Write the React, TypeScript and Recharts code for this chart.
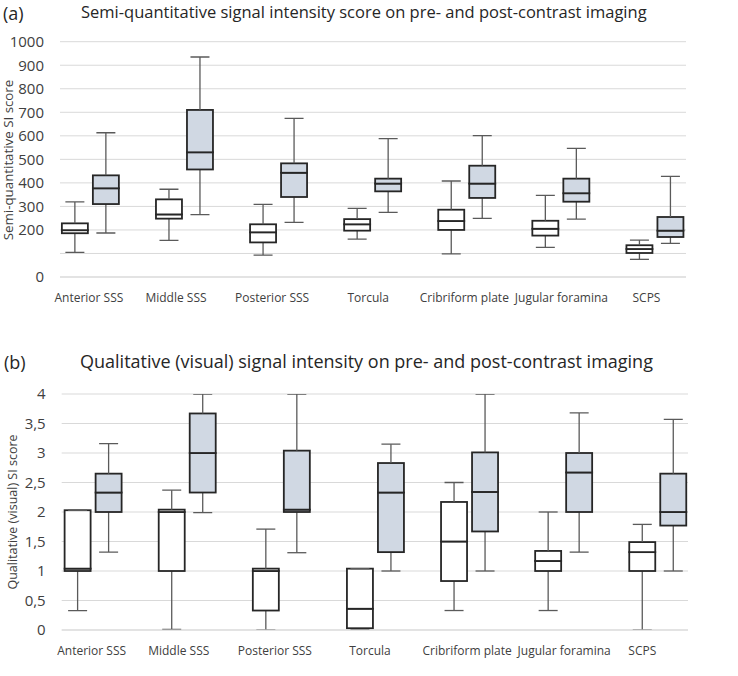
import React from 'react';
import { ComposedChart, Bar, XAxis, YAxis, CartesianGrid } from 'recharts';

const FONT = "'Open Sans', 'Noto Sans', sans-serif";

const CATEGORIES = [
  'Anterior SSS',
  'Middle SSS',
  'Posterior SSS',
  'Torcula',
  'Cribriform plate',
  'Jugular foramina',
  'SCPS',
];

// each row: [min, q1, median, q3, max]
const SEMI_PRE = [
  [105, 186, 199, 228, 319],
  [156, 248, 266, 330, 373],
  [93, 147, 190, 224, 309],
  [161, 197, 224, 246, 292],
  [98, 200, 238, 286, 408],
  [126, 176, 205, 239, 347],
  [75, 102, 119, 135, 157],
];
const SEMI_POST = [
  [187, 310, 377, 432, 613],
  [265, 457, 530, 710, 935],
  [232, 340, 443, 483, 674],
  [275, 364, 397, 418, 588],
  [249, 336, 397, 473, 601],
  [246, 320, 356, 418, 547],
  [143, 170, 197, 255, 428],
];
const QUAL_PRE = [
  [0.33, 1.0, 1.04, 2.03, 2.03],
  [0.01, 1.0, 2.0, 2.04, 2.37],
  [0, 0.33, 1.0, 1.04, 1.71],
  [0.01, 0.03, 0.36, 1.04, 1.04],
  [0.33, 0.83, 1.5, 2.17, 2.5],
  [0.33, 1.0, 1.17, 1.34, 2.0],
  [0, 1.0, 1.32, 1.49, 1.79],
];
const QUAL_POST = [
  [1.32, 2.0, 2.33, 2.65, 3.16],
  [1.99, 2.33, 3.0, 3.67, 4.0],
  [1.31, 2.0, 2.04, 3.04, 4.0],
  [1.0, 1.32, 2.33, 2.83, 3.15],
  [1.0, 1.67, 2.34, 3.01, 4.0],
  [1.32, 2.0, 2.67, 3.0, 3.68],
  [1.0, 1.77, 2.0, 2.65, 3.57],
];

const SEMI_TICKS = [0, 100, 200, 300, 400, 500, 600, 700, 800, 900, 1000];
const QUAL_TICKS = [0, 0.5, 1, 1.5, 2, 2.5, 3, 3.5, 4];
const POSITIONS = [0, 1, 2, 3, 4, 5, 6];

// label nudges (the category labels are not exactly centred under the pairs)
const SEMI_NUDGE = [-1, -8, -6, -4, -2, 1, -8];
const QUAL_NUDGE = [-1, -8, -6, -5, -2, 1, -15];

const BOX_STROKE = '#262626';
const WHISKER = '#5a5a5a';
const POST_FILL = '#d0d8e3';
const GRID = '#d9d9d9';
const TEXT = '#404040';
const CAP = 19;

function buildRows(pre: number[][], post: number[][]) {
  return CATEGORIES.map((name, i) => {
    const a = pre[i];
    const b = post[i];
    return {
      pos: POSITIONS[i],
      name,
      preBase: a[0],
      preLowW: a[1] - a[0],
      preLowBox: a[2] - a[1],
      preHighBox: a[3] - a[2],
      preHighW: a[4] - a[3],
      postBase: b[0],
      postLowW: b[1] - b[0],
      postLowBox: b[2] - b[1],
      postHighBox: b[3] - b[2],
      postHighW: b[4] - b[3],
    };
  });
}

const semiRows = buildRows(SEMI_PRE, SEMI_POST);
const qualRows = buildRows(QUAL_PRE, QUAL_POST);

function span(p: any) {
  const top = Math.min(p.y, p.y + p.height);
  const bottom = Math.max(p.y, p.y + p.height);
  return { top, bottom, cx: p.x + p.width / 2 };
}

const Empty = () => <g />;

const LowWhisker = (p: any) => {
  const { top, bottom, cx } = span(p);
  return (
    <g>
      <line x1={cx} x2={cx} y1={top} y2={bottom} stroke={WHISKER} strokeWidth={1.3} />
      <line x1={cx - CAP / 2} x2={cx + CAP / 2} y1={bottom} y2={bottom} stroke={WHISKER} strokeWidth={1.3} />
    </g>
  );
};

const HighWhisker = (p: any) => {
  const { top, bottom, cx } = span(p);
  return (
    <g>
      <line x1={cx} x2={cx} y1={top} y2={bottom} stroke={WHISKER} strokeWidth={1.3} />
      <line x1={cx - CAP / 2} x2={cx + CAP / 2} y1={top} y2={top} stroke={WHISKER} strokeWidth={1.3} />
    </g>
  );
};

const makeBox = (fill: string) => (p: any) => {
  const { top, bottom } = span(p);
  return (
    <rect x={p.x} y={top} width={p.width} height={bottom - top}
      fill={fill} stroke={BOX_STROKE} strokeWidth={1.8} />
  );
};
const PreBox = makeBox('#ffffff');
const PostBox = makeBox(POST_FILL);

const makeTick = (nudges: number[]) => (props: any) => {
  const { x, y, payload } = props;
  const i = payload.value;
  return (
    <text x={x + nudges[i]} y={y + 12} textAnchor="middle" dominantBaseline="central"
      fontFamily={FONT} fontSize={12} fill={TEXT}>
      {CATEGORIES[i]}
    </text>
  );
};

interface PanelProps {
  rows: any[];
  ticks: number[];
  domain: [number, number];
  xDomain: [number, number];
  height: number;
  margin: { top: number; right: number; bottom: number; left: number };
  yWidth: number;
  tickFmt: (v: number) => string;
  nudges: number[];
}

function Panel({ rows, ticks, domain, xDomain, height, margin, yWidth, tickFmt, nudges }: PanelProps) {
  return (
    <ComposedChart width={738} height={height} data={rows} margin={margin} barGap={5}>
      <CartesianGrid horizontal vertical={false} stroke={GRID} strokeWidth={1} />
      <XAxis
        type="number"
        dataKey="pos"
        domain={xDomain}
        allowDataOverflow
        ticks={POSITIONS}
        interval={0}
        height={30}
        tick={makeTick(nudges)}
        tickLine={false}
        axisLine={{ stroke: GRID, strokeWidth: 1.2 }}
      />
      <YAxis
        type="number"
        domain={domain}
        allowDataOverflow
        ticks={ticks}
        interval={0}
        width={yWidth}
        tickFormatter={tickFmt}
        axisLine={false}
        tickLine={false}
        tickMargin={10}
        tick={{ fontFamily: FONT, fontSize: 15, fill: TEXT }}
      />
      <Bar dataKey="preBase" stackId="pre" barSize={26} shape={Empty} isAnimationActive={false} />
      <Bar dataKey="preLowW" stackId="pre" barSize={26} shape={LowWhisker} isAnimationActive={false} />
      <Bar dataKey="preLowBox" stackId="pre" barSize={26} shape={PreBox} isAnimationActive={false} />
      <Bar dataKey="preHighBox" stackId="pre" barSize={26} shape={PreBox} isAnimationActive={false} />
      <Bar dataKey="preHighW" stackId="pre" barSize={26} shape={HighWhisker} isAnimationActive={false} />
      <Bar dataKey="postBase" stackId="post" barSize={26} shape={Empty} isAnimationActive={false} />
      <Bar dataKey="postLowW" stackId="post" barSize={26} shape={LowWhisker} isAnimationActive={false} />
      <Bar dataKey="postLowBox" stackId="post" barSize={26} shape={PostBox} isAnimationActive={false} />
      <Bar dataKey="postHighBox" stackId="post" barSize={26} shape={PostBox} isAnimationActive={false} />
      <Bar dataKey="postHighW" stackId="post" barSize={26} shape={HighWhisker} isAnimationActive={false} />
    </ComposedChart>
  );
}

const abs = (left: number, top: number): React.CSSProperties => ({
  position: 'absolute',
  left,
  top,
  fontFamily: FONT,
  whiteSpace: 'nowrap',
  lineHeight: 1,
});

export default function App() {
  return (
    <div style={{ position: 'absolute', left: 0, top: 0, width: 738, height: 676, background: '#ffffff', overflow: 'hidden' }}>
      <div style={{ position: 'absolute', left: 0, top: 0 }}>
        <Panel
          rows={semiRows}
          ticks={SEMI_TICKS}
          domain={[0, 1000]}
          xDomain={[-0.318, 6.335]}
          height={310}
          margin={{ top: 41.7, right: 52, bottom: 3, left: 0 }}
          yWidth={60}
          tickFmt={(v) => (v === 100 ? '' : String(v))}
          nudges={SEMI_NUDGE}
        />
      </div>
      <div style={{ position: 'absolute', left: 0, top: 340 }}>
        <Panel
          rows={qualRows}
          ticks={QUAL_TICKS}
          domain={[0, 4]}
          xDomain={[-0.329, 6.326]}
          height={326}
          margin={{ top: 54, right: 50, bottom: 6, left: 0 }}
          yWidth={61.7}
          tickFmt={(v) => String(v).replace('.', ',')}
          nudges={QUAL_NUDGE}
        />
      </div>

      <div style={{ ...abs(3, 3.5), fontSize: 18, color: '#262626' }}>(a)</div>
      <div style={{ ...abs(81, 3.5), fontSize: 16.5, color: '#262626' }}>
        Semi-quantitative signal intensity score on pre- and post-contrast imaging
      </div>
      <div style={{ ...abs(4, 353), fontSize: 18, color: '#262626' }}>(b)</div>
      <div style={{ ...abs(80, 352), fontSize: 18, color: '#262626' }}>
        Qualitative (visual) signal intensity on pre- and post-contrast imaging
      </div>

      <div style={{ ...abs(8.5, 159.5), fontSize: 13.3, color: TEXT, transform: 'translate(-50%, -50%) rotate(-90deg)' }}>
        Semi-quantitative SI score
      </div>
      <div style={{ ...abs(12.5, 511.5), fontSize: 12.5, color: TEXT, transform: 'translate(-50%, -50%) rotate(-90deg)' }}>
        Qualitative (visual) SI score
      </div>
    </div>
  );
}
